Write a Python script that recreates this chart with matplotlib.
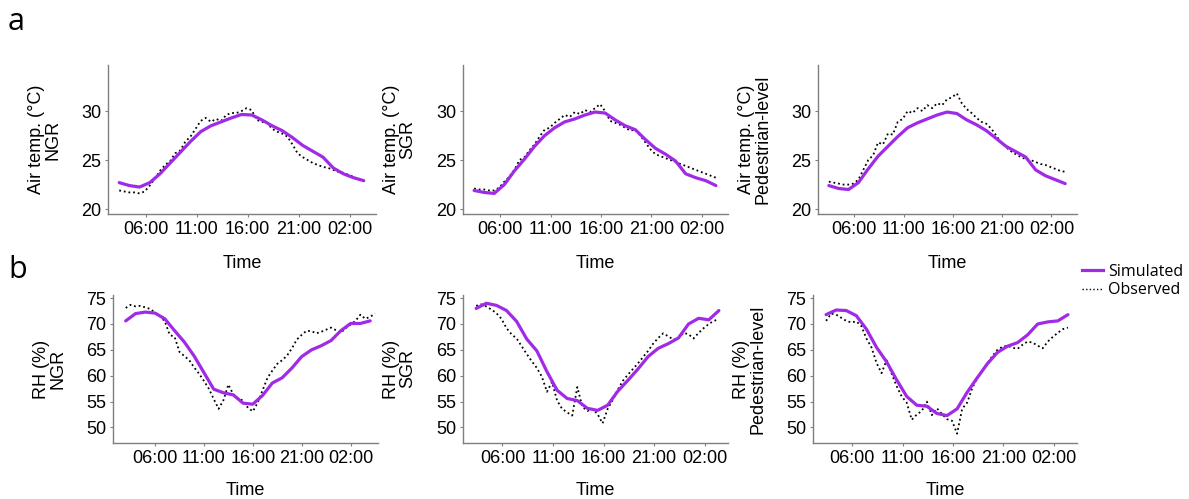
import numpy as np
import matplotlib.pyplot as plt
from matplotlib.lines import Line2D

plt.rcParams['font.family'] = ['Liberation Sans', 'DejaVu Sans']

# Time axis (hours since midnight of day 1; 26 = 02:00 next day)
time_ticks = [6, 11, 16, 21, 26]
time_tick_labels = ['06:00', '11:00', '16:00', '21:00', '02:00']

# Observed every 30 min, simulated every 1 h
obs_start = 3.4
sim_start = 3.4
obs_start_rh_ngr = 3.0
sim_start_rh_ngr = 3.0

# ---- Air temperature (°C) ----
temp_obs_ngr = [21.9, 21.8, 21.7, 21.7, 21.6, 21.8, 22.4, 23.1, 23.9, 24.5, 24.9, 25.7,
                26.0, 26.9, 27.4, 28.2, 29.0, 29.3, 28.9, 29.2, 29.0, 29.6, 29.8, 29.8,
                30.0, 30.3, 30.1, 29.1, 28.9, 28.8, 28.2, 27.9, 27.7, 27.4, 26.6, 25.7,
                25.3, 25.0, 24.7, 24.5, 24.3, 24.2, 24.0, 23.8, 23.7, 23.5, 23.3, 23.0, 22.9]
temp_sim_ngr = [22.7, 22.4, 22.25, 22.7, 23.6, 24.7, 25.8, 26.9, 27.9, 28.5, 28.9, 29.3,
                29.65, 29.6, 29.1, 28.5, 28.0, 27.3, 26.5, 25.9, 25.3, 24.2, 23.6, 23.2, 22.9]

temp_obs_sgr = [22.1, 22.0, 22.0, 21.9, 21.9, 22.2, 22.8, 23.3, 24.0, 25.0, 25.3, 26.0,
                26.6, 27.4, 28.1, 28.3, 28.8, 29.2, 29.6, 29.4, 29.9, 29.7, 30.1, 29.9,
                30.3, 30.7, 30.0, 29.0, 28.8, 28.6, 28.3, 28.0, 28.1, 27.5, 26.8, 26.1,
                25.6, 25.4, 25.2, 25.0, 24.8, 24.6, 24.4, 24.2, 24.0, 23.8, 23.6, 23.4, 23.2]
temp_sim_sgr = [21.9, 21.7, 21.6, 22.5, 23.9, 25.1, 26.4, 27.5, 28.3, 28.9, 29.2, 29.6,
                29.9, 29.8, 29.1, 28.5, 28.1, 27.1, 26.2, 25.6, 24.9, 23.6, 23.2, 22.9, 22.4]

temp_obs_ped = [22.8, 22.7, 22.6, 22.5, 22.5, 22.6, 23.0, 24.0, 25.0, 25.5, 26.8, 26.6,
                27.7, 27.6, 28.9, 29.2, 30.0, 29.8, 30.3, 30.0, 30.6, 30.3, 30.8, 30.6,
                31.2, 31.4, 31.8, 30.8, 30.2, 29.8, 29.3, 28.9, 28.7, 28.2, 27.5, 26.8,
                26.3, 25.9, 25.6, 25.3, 25.1, 25.0, 24.8, 24.6, 24.5, 24.3, 24.1, 23.9, 23.8]
temp_sim_ped = [22.4, 22.1, 22.0, 22.7, 24.1, 25.4, 26.4, 27.4, 28.3, 28.8, 29.2, 29.6,
                29.9, 29.75, 29.1, 28.6, 28.0, 27.2, 26.4, 25.85, 25.3, 24.0, 23.4, 23.0, 22.6]

# ---- Relative humidity (%) ----
rh_obs_ngr = [73.1, 73.7, 73.4, 73.5, 73.2, 72.9, 72.2, 71.5, 70.5, 67.9, 67.5, 64.6,
              63.8, 63.0, 61.6, 60.4, 59.0, 57.5, 55.5, 53.6, 55.3, 58.3, 56.4, 55.6,
              55.2, 53.8, 53.1, 54.8, 57.2, 59.6, 61.0, 62.3, 63.0, 63.9, 65.3, 67.0,
              67.9, 68.7, 68.6, 68.2, 68.5, 68.9, 69.3, 68.8, 68.3, 69.2, 69.9, 70.6,
              71.8, 71.0, 71.4, 72.0]
rh_sim_ngr = [70.6, 72.0, 72.3, 72.1, 71.0, 68.7, 66.5, 63.8, 60.6, 57.4, 56.7, 56.3,
              54.7, 54.5, 56.2, 58.6, 59.6, 61.5, 63.7, 65.0, 65.8, 66.8, 68.7, 70.1,
              70.1, 70.6]

rh_obs_sgr = [73.5, 73.8, 73.4, 72.8, 72.1, 71.0, 69.2, 68.0, 67.2, 65.7, 64.2, 62.8,
              61.5, 59.8, 56.9, 58.8, 55.2, 53.6, 52.9, 52.3, 57.8, 54.0, 53.2, 53.6,
              52.6, 50.8, 53.6, 55.3, 57.3, 59.0, 60.2, 61.3, 62.4, 63.6, 64.8, 66.2,
              67.3, 68.2, 67.6, 67.0, 67.2, 68.3, 68.0, 67.2, 68.3, 69.2, 70.0, 70.6, 70.9]
rh_sim_sgr = [73.0, 74.0, 73.6, 72.6, 70.5, 67.1, 64.8, 60.8, 57.2, 55.6, 55.2, 53.7,
              53.3, 54.3, 57.0, 59.1, 61.3, 63.7, 65.3, 66.2, 67.3, 70.0, 71.1, 70.8, 72.6]

rh_obs_ped = [70.6, 72.0, 71.8, 71.2, 70.6, 70.3, 70.5, 69.6, 67.2, 65.5, 62.5, 60.5,
              63.0, 60.4, 58.0, 56.0, 54.8, 51.5, 52.5, 53.2, 55.0, 52.4, 53.7, 52.6,
              51.6, 51.3, 48.8, 53.6, 54.8, 57.6, 59.6, 61.0, 62.4, 63.8, 65.0, 65.6,
              65.8, 65.4, 65.2, 66.0, 66.6, 66.4, 65.8, 65.3, 66.6, 67.5, 68.3, 69.0, 69.3]
rh_sim_ped = [71.8, 72.7, 72.6, 71.6, 69.0, 65.5, 62.7, 59.2, 56.0, 54.3, 54.1, 52.7,
              52.3, 53.6, 56.8, 59.6, 62.3, 64.5, 65.7, 66.4, 67.9, 70.0, 70.4, 70.6, 71.8]

sim_color = '#a02ae8'
obs_color = 'black'
spine_color = '#7f7f7f'
obs_style = (0, (1, 1.6))

W, H = 1189, 499
fig = plt.figure(figsize=(W / 100, H / 100), dpi=100)


def rect(left, right, top, bottom):
    return [left / W, 1 - bottom / H, (right - left) / W, (bottom - top) / H]


panels = [
    # (pixel box, obs, obs start, sim, sim start, ylabel, ylim, yticks, xlim, xlabel pad)
    ((108, 376, 65, 214), temp_obs_ngr, obs_start, temp_sim_ngr, sim_start,
     'Air temp. (°C)\nNGR', (19.5, 34.7), [20, 25, 30], (2.3, 28.6), 12.5),
    ((463, 728, 65, 214), temp_obs_sgr, obs_start, temp_sim_sgr, sim_start,
     'Air temp. (°C)\nSGR', (19.5, 34.7), [20, 25, 30], (2.3, 28.6), 12.5),
    ((818, 1077, 65, 214), temp_obs_ped, obs_start, temp_sim_ped, sim_start,
     'Air temp. (°C)\nPedestrian-level', (19.5, 34.7), [20, 25, 30], (2.3, 28.6), 12.5),
    ((113, 378, 295, 443), rh_obs_ngr, obs_start_rh_ngr, rh_sim_ngr, sim_start_rh_ngr,
     'RH (%)\nNGR', (47.0, 75.6), [50, 55, 60, 65, 70, 75], (1.7, 28.8), 10.5),
    ((463, 728, 295, 443), rh_obs_sgr, obs_start, rh_sim_sgr, sim_start,
     'RH (%)\nSGR', (47.0, 75.6), [50, 55, 60, 65, 70, 75], (2.1, 28.3), 10.5),
    ((813, 1077, 295, 443), rh_obs_ped, obs_start, rh_sim_ped, sim_start,
     'RH (%)\nPedestrian-level', (47.0, 75.6), [50, 55, 60, 65, 70, 75], (2.1, 28.3), 10.5),
]

for box, obs, t_obs0, sim, t_sim0, ylab, ylim, yticks, xlim, xpad in panels:
    ax = fig.add_axes(rect(*box))
    t_obs = t_obs0 + 0.5 * np.arange(len(obs))
    t_sim = t_sim0 + 1.0 * np.arange(len(sim))
    ax.plot(t_obs, obs, color=obs_color, lw=1.3, linestyle=obs_style, zorder=2)
    ax.plot(t_sim, sim, color=sim_color, lw=2.3, solid_capstyle='round',
            solid_joinstyle='round', zorder=3)

    ax.set_xlim(*xlim)
    ax.set_ylim(*ylim)
    ax.set_xticks(time_ticks)
    ax.set_xticklabels(time_tick_labels)
    ax.set_yticks(yticks)
    ax.tick_params(labelsize=13, length=2, color=spine_color, pad=3)
    for side in ['top', 'right']:
        ax.spines[side].set_visible(False)
    for side in ['left', 'bottom']:
        ax.spines[side].set_color(spine_color)
        ax.spines[side].set_linewidth(1.0)
    ax.set_xlabel('Time', fontsize=13, labelpad=xpad)
    ax.set_ylabel(ylab, fontsize=13, labelpad=14, linespacing=0.95)

# Panel letters
fig.text(8 / W, 1 - 22 / H, 'a', fontsize=22, family=['Open Sans', 'DejaVu Sans'],
         va='center', ha='left')
fig.text(8 / W, 1 - 270 / H, 'b', fontsize=22, family=['Open Sans', 'DejaVu Sans'],
         va='center', ha='left')

# Legend
handles = [Line2D([], [], color=sim_color, lw=2.3),
           Line2D([], [], color=obs_color, lw=1.0, linestyle=obs_style)]
fig.legend(handles, ['Simulated', 'Observed'], loc='upper left',
           bbox_to_anchor=(1082 / W, 1 - 264 / H), frameon=False,
           prop={'family': 'Open Sans', 'size': 11.5}, handlelength=1.3,
           handletextpad=0.35, labelspacing=0.15, borderaxespad=0, borderpad=0)

fig.savefig('out.png', dpi=100)
